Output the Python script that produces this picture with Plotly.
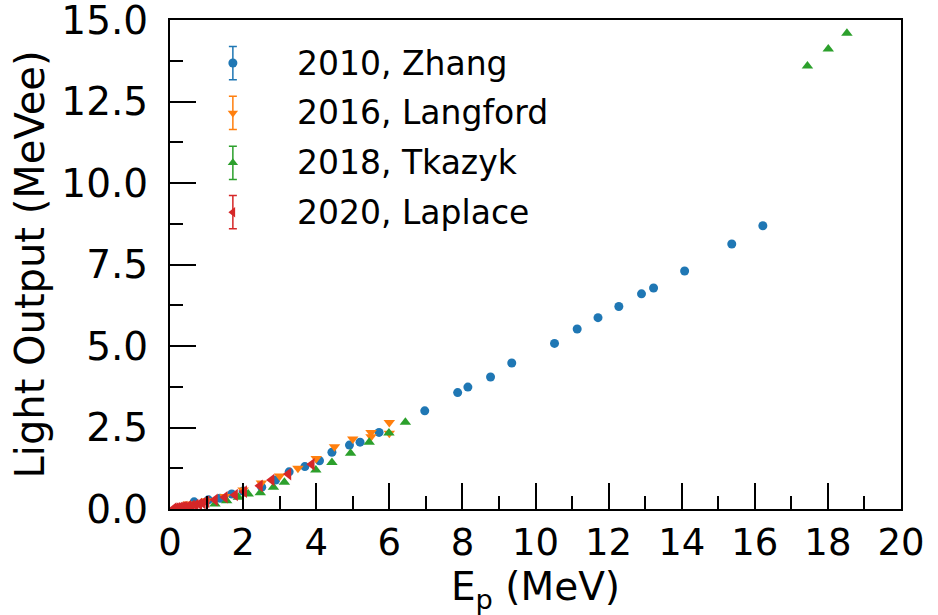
import plotly.graph_objects as go

# Proton light output measurements (E_p in MeV, light output in MeVee)
zhang_e = [0.66, 1.05, 1.37, 1.69, 2.0, 2.51, 2.89, 3.26, 3.69, 4.09, 4.43, 4.91, 5.20, 5.72,
           6.97, 7.87, 8.15, 8.77, 9.35, 10.52, 11.14, 11.71, 12.28, 12.90, 13.23, 14.08, 15.37, 16.22]
zhang_l = [0.22, 0.28, 0.33, 0.46, 0.55, 0.67, 0.89, 1.14, 1.30, 1.48, 1.74, 1.96, 2.05, 2.35,
           3.01, 3.57, 3.74, 4.05, 4.48, 5.08, 5.52, 5.87, 6.21, 6.60, 6.78, 7.30, 8.13, 8.69]

langford_e = [0.5, 1.0, 1.5, 2.0, 2.5, 3.0, 3.5, 4.0, 4.5, 5.0, 5.5, 5.5, 6.0, 6.0]
langford_l = [0.15, 0.25, 0.38, 0.58, 0.80, 1.01, 1.25, 1.55, 1.91, 2.15, 2.35, 2.22, 2.65, 2.32]

tkazyk_e = [1.23, 1.55, 1.87, 2.14, 2.47, 2.83, 3.13, 3.99, 4.43, 4.94, 5.45, 5.99, 6.44,
            17.44, 18.01, 18.52]
tkazyk_l = [0.15, 0.25, 0.36, 0.46, 0.50, 0.67, 0.82, 1.20, 1.43, 1.71, 2.05, 2.33, 2.66,
            13.59, 14.11, 14.59]

laplace_e = [0.1, 0.15, 0.2, 0.25, 0.3, 0.35, 0.4, 0.5, 0.6, 0.7, 0.8, 0.9, 1.0,
             1.23, 1.50, 1.78, 2.03, 2.46, 2.78, 3.24, 3.88]
laplace_l = [0.01, 0.015, 0.02, 0.03, 0.04, 0.05, 0.06, 0.08, 0.10, 0.12, 0.15, 0.18, 0.22,
             0.28, 0.36, 0.43, 0.53, 0.71, 0.89, 1.07, 1.37]

labels = ["2010, Zhang", "2016, Langford", "2018, Tkazyk", "2020, Laplace"]
colors = ["#1f77b4", "#ff7f0e", "#2ca02c", "#d62728"]
symbols = ["circle", "triangle-down", "triangle-up", "triangle-left"]
sizes = [9, 10, 10, 11]

x_ticks = list(range(0, 21, 2))
y_ticks = [0.0, 2.5, 5.0, 7.5, 10.0, 12.5, 15.0]

FONT = "DejaVu Sans"
series = [(zhang_e, zhang_l), (langford_e, langford_l), (tkazyk_e, tkazyk_l), (laplace_e, laplace_l)]

fig = go.Figure()
for (xs, ys), name, c, s, sz in zip(series, labels, colors, symbols, sizes):
    fig.add_trace(go.Scatter(
        x=xs, y=ys, mode="markers", name=name, showlegend=False,
        marker=dict(color=c, symbol=s, size=sz, line=dict(width=0)),
    ))

# Legend glyphs (marker with error bar) drawn on an overlay axis spanning the plot area
leg_x = 0.086
leg_y = [0.912, 0.810, 0.708, 0.607]
for ly, name, c, s in zip(leg_y, labels, colors, symbols):
    fig.add_trace(go.Scatter(
        x=[leg_x], y=[ly], xaxis="x2", yaxis="y2", mode="markers", showlegend=False,
        marker=dict(color=c, symbol=s, size=9, line=dict(width=0)),
        error_y=dict(type="constant", value=0.034, color=c, thickness=1.5, width=4),
        hoverinfo="skip",
    ))
    fig.add_annotation(x=0.171, y=ly, xref="paper", yref="paper", text=name,
                       showarrow=False, xanchor="left", yanchor="middle",
                       font=dict(family=FONT, size=33, color="black"))

axis_common = dict(
    showgrid=False, zeroline=False, showline=True, linecolor="black", linewidth=2,
    mirror=True, ticks="inside", ticklen=26, tickwidth=1.6, tickcolor="black",
    ticklabeloverflow="allow", automargin=False,
)

fig.update_layout(
    width=938, height=615,
    margin=dict(l=170, r=37, t=20, b=106),
    paper_bgcolor="white", plot_bgcolor="white",
    showlegend=False,
    xaxis=dict(
        range=[0, 20], tickvals=x_ticks,
        tickfont=dict(family=FONT, size=37, color="black"),
        minor=dict(dtick=1, tick0=0, ticks="inside", ticklen=13, tickwidth=1.6, tickcolor="black"),
        title=dict(text="E<sub>p</sub> (MeV)", font=dict(family=FONT, size=39, color="black"), standoff=2),
        **axis_common,
    ),
    yaxis=dict(
        range=[0, 15], tickvals=y_ticks, tickformat=".1f",
        tickfont=dict(family=FONT, size=39, color="black"), ticklabelstandoff=12,
        minor=dict(dtick=1.25, tick0=0, ticks="inside", ticklen=13, tickwidth=1.6, tickcolor="black"),
        title=dict(text="Light Output (MeVee)", font=dict(family=FONT, size=40, color="black"), standoff=4),
        **axis_common,
    ),
    xaxis2=dict(overlaying="x", range=[0, 1], visible=False, anchor="y2"),
    yaxis2=dict(overlaying="y", range=[0, 1], visible=False, anchor="x2"),
)

fig.write_html("out.html")
